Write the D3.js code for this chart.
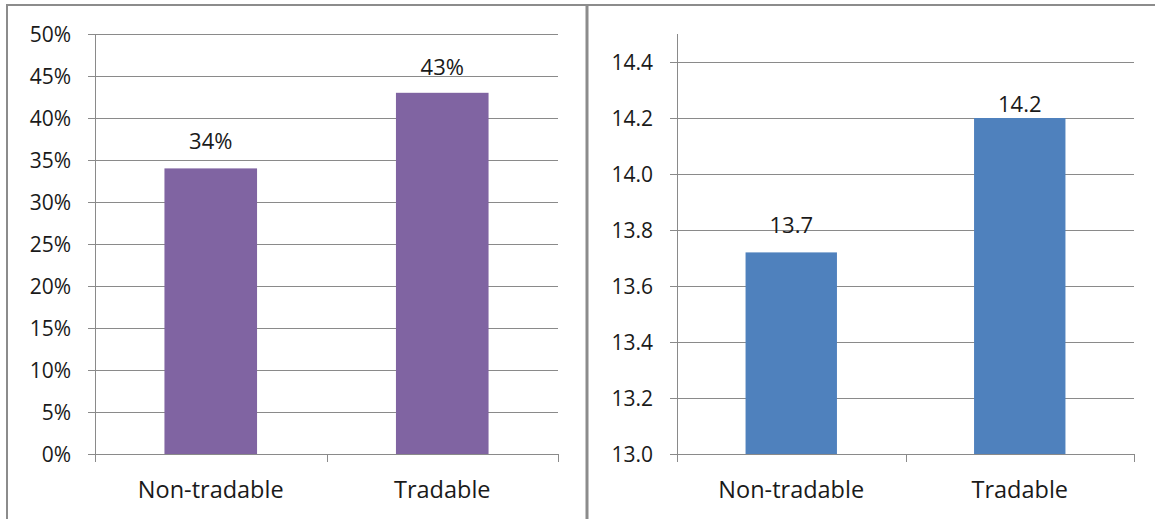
<!DOCTYPE html>
<html>
<head>
<meta charset="utf-8">
<script src="https://cdn.jsdelivr.net/npm/d3@7"></script>
<style>
  html, body { margin: 0; padding: 0; background: #fff; }
  svg { display: block; }
  text { font-family: "Open Sans", "Noto Sans", sans-serif; fill: #1a1a1a; }
</style>
</head>
<body>
<svg id="chart" width="1155" height="519"></svg>
<script>
// Categories shared by both panels
const categories = ["Non-tradable", "Tradable"];

// Left panel: share (percent)
const shareValues = [34, 43];
const shareTicks = [0, 5, 10, 15, 20, 25, 30, 35, 40, 45, 50];

// Right panel: average level
const levelValues = [13.72, 14.2];
const levelTicks = [13.0, 13.2, 13.4, 13.6, 13.8, 14.0, 14.2, 14.4];

const svg = d3.select("#chart");
const gridColor = "#8a8a8a";
const frameColor = "#8c8c8c";

// Panel frame
svg.append("line").attr("x1", 6).attr("x2", 1155).attr("y1", 5).attr("y2", 5)
  .attr("stroke", frameColor).attr("stroke-width", 2);
svg.append("line").attr("x1", 7).attr("x2", 7).attr("y1", 4).attr("y2", 519)
  .attr("stroke", frameColor).attr("stroke-width", 2);
svg.append("line").attr("x1", 587).attr("x2", 587).attr("y1", 4).attr("y2", 519)
  .attr("stroke", frameColor).attr("stroke-width", 3);

function drawPanel(opts) {
  const { left, right, top, bottom, domain, ticks, values, color, tickFmt, labelFmt, labelGaps } = opts;
  const g = svg.append("g");

  const x = d3.scaleBand().domain(categories).range([left, right]).paddingInner(0.6).paddingOuter(0.3);
  const y = d3.scaleLinear().domain(domain).range([bottom, top]);

  // Horizontal gridlines with left tick marks
  g.selectAll("line.grid").data(ticks).join("line")
    .attr("class", "grid")
    .attr("x1", left - 7).attr("x2", right)
    .attr("y1", d => Math.round(y(d)) + 0.5).attr("y2", d => Math.round(y(d)) + 0.5)
    .attr("stroke", gridColor).attr("stroke-width", 1);

  // Bars
  g.selectAll("rect.bar").data(values).join("rect")
    .attr("class", "bar")
    .attr("x", (d, i) => x(categories[i]))
    .attr("width", x.bandwidth())
    .attr("y", d => y(d))
    .attr("height", d => y(domain[0]) - y(d))
    .attr("fill", color);

  // Vertical axis line
  g.append("line")
    .attr("x1", left + 0.5).attr("x2", left + 0.5)
    .attr("y1", top).attr("y2", bottom + 8)
    .attr("stroke", gridColor);

  // Category separator ticks on the x axis
  const edges = [left, left + (right - left) / 2, right];
  g.selectAll("line.xtick").data(edges.slice(1)).join("line")
    .attr("class", "xtick")
    .attr("x1", d => Math.round(d) + 0.5).attr("x2", d => Math.round(d) + 0.5)
    .attr("y1", bottom).attr("y2", bottom + 8)
    .attr("stroke", gridColor);

  // Y tick labels
  g.selectAll("text.ytick").data(ticks).join("text")
    .attr("class", "ytick")
    .attr("x", left - 24)
    .attr("y", d => y(d))
    .attr("dy", "0.36em")
    .attr("text-anchor", "end")
    .attr("font-size", 21)
    .text(tickFmt);

  // Category labels
  g.selectAll("text.cat").data(categories).join("text")
    .attr("class", "cat")
    .attr("x", d => x(d) + x.bandwidth() / 2)
    .attr("y", 498)
    .attr("text-anchor", "middle")
    .attr("font-size", 23.5)
    .text(d => d);

  // Value labels above bars
  g.selectAll("text.val").data(values).join("text")
    .attr("class", "val")
    .attr("x", (d, i) => x(categories[i]) + x.bandwidth() / 2)
    .attr("y", (d, i) => y(d) - labelGaps[i])
    .attr("text-anchor", "middle")
    .attr("font-size", 22)
    .text(labelFmt);
}

drawPanel({
  left: 95, right: 558, top: 34, bottom: 454,
  domain: [0, 50], ticks: shareTicks, values: shareValues,
  color: "#8064a2",
  tickFmt: d => d + "%",
  labelFmt: d => d3.format(".0f")(d) + "%",
  labelGaps: [19, 18]
});

drawPanel({
  left: 677, right: 1134, top: 34, bottom: 454,
  domain: [13.0, 14.5], ticks: levelTicks, values: levelValues,
  color: "#4f81bd",
  tickFmt: d3.format(".1f"),
  labelFmt: d3.format(".1f"),
  labelGaps: [19, 6]
});
</script>
</body>
</html>
